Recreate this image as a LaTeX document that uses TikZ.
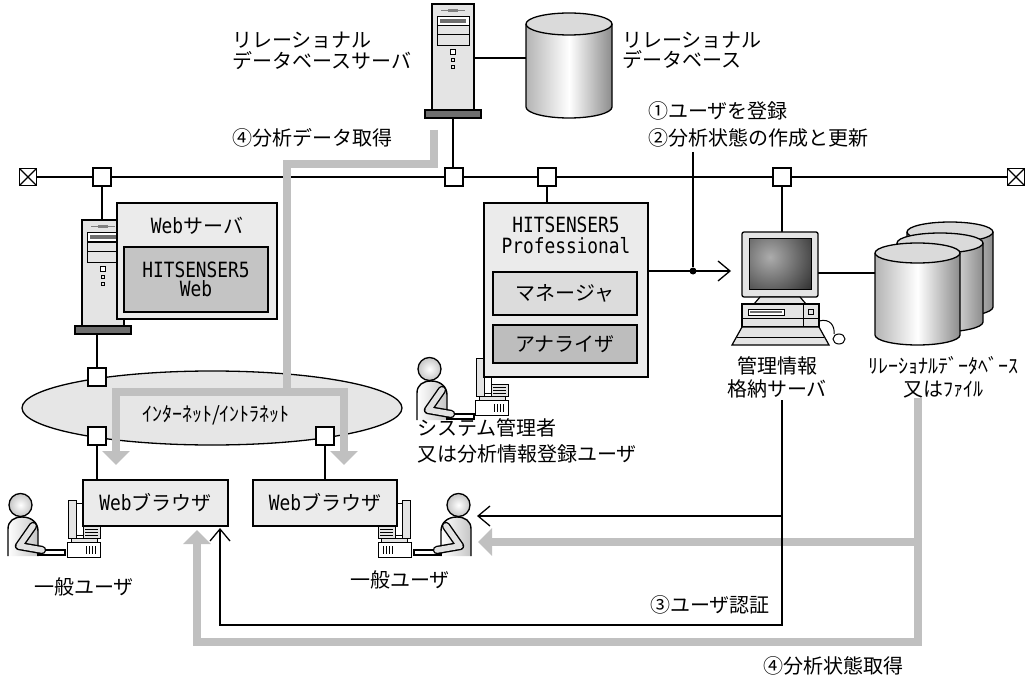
\documentclass[tikz,border=0pt]{standalone}
\usepackage{fontspec}
\setmainfont{Noto Sans CJK JP}
\newfontfamily\monof{DejaVu Sans Mono}[FakeStretch=0.85]
\usetikzlibrary{arrows.meta,shapes.geometric}
\pgfdeclarelayer{paper}
\pgfdeclarelayer{wires}
\pgfsetlayers{paper,wires,main}

\definecolor{boxfill}{HTML}{EBEBEB}
\definecolor{midfill}{HTML}{C4C4C4}
\definecolor{mgrfill}{HTML}{DCDCDC}
\definecolor{anafill}{HTML}{BDBDBD}
\definecolor{flowgray}{HTML}{C0C0C0}
\definecolor{basegray}{HTML}{6E6E6E}
\definecolor{cloudfill}{HTML}{E6E6E6}
\definecolor{towerfill}{HTML}{E4E4E4}
\definecolor{cylleft}{HTML}{B4B4B4}
\definecolor{cylright}{HTML}{8C8C8C}
\definecolor{cyltop}{HTML}{DADADA}
\definecolor{armfill}{HTML}{E2E2E2}

\tikzset{
  every node/.style={font=\fontsize{20}{22}\selectfont, inner sep=0pt},
  wire/.style={draw=black, line width=1.3pt},
  jbox/.style={draw, fill=white, line width=1.3pt, minimum size=18pt, inner sep=0pt},
  termbox/.style={draw, fill=white, line width=1.3pt, minimum size=17pt, inner sep=0pt,
    path picture={\draw[line width=1.1pt]
      (path picture bounding box.south west) -- (path picture bounding box.north east)
      (path picture bounding box.north west) -- (path picture bounding box.south east);}},
  panel/.style={draw, line width=1.3pt, fill=boxfill},
  flow/.style={draw=flowgray, line width=8pt},
  flowtip/.style={-{Triangle[width=27pt,length=14pt]}},
  barb/.style={-{Straight Barb[length=12pt,width=20pt]}},
  thin/.style={line width=1pt},
}

% tower server: left x, top y
\newcommand\towerpc[2]{%
  \begin{scope}[shift={(#1,#2)}]
    \draw[line width=1.3pt, fill=towerfill] (0,0) rectangle (42,106);
    \draw[thin, gray] (9,7) -- (33,7);
    \fill[gray] (16,5.5) rectangle (26,8.5);
    \draw[thin, fill=white] (5,13) rectangle (37,22);
    \fill[basegray] (8,15.5) rectangle (34,19.5);
    \draw[thin, fill=towerfill] (5,22) rectangle (37,31);
    \draw[thin, fill=towerfill] (5,31) rectangle (37,42);
    \draw[thin, fill=white] (18.5,46) rectangle (23.5,51);
    \draw[thin] (19.5,55) rectangle (22.5,58);
    \draw[thin] (19.5,62) rectangle (22.5,65);
    \draw[line width=1.3pt, fill=basegray] (-7,106) rectangle (49,114);
  \end{scope}}

% cylinder: centre x, top y, bottom y, x radius, y radius
\newcommand\cylinder[5]{%
  \shade[left color=cylleft, right color=cylright, middle color=white]
    (#1-#4,#2) -- (#1-#4,#3) arc[start angle=180,end angle=0,x radius=#4,y radius=#5]
    -- (#1+#4,#2) -- cycle;
  \draw[line width=1.3pt] (#1-#4,#2) -- (#1-#4,#3)
    arc[start angle=180,end angle=0,x radius=#4,y radius=#5] -- (#1+#4,#2);
  \draw[line width=1.3pt, fill=cyltop] (#1,#2) ellipse[x radius=#4, y radius=#5];}

% seated person: x, y, facing (1 right, -1 left)
\newcommand\userfig[3]{%
  \begin{scope}[shift={(#1,#2)}, xscale=#3]
    \draw[line width=1.4pt, left color=white, right color=gray!45]
      (0,63) -- (0,36) .. controls (0,28) and (6,24) .. (14,24)
      .. controls (24,24) and (30,30) .. (30,38) -- (30,63);
    \draw[line width=1.2pt, fill=white] (30,57) rectangle (57,62);
    \draw[line width=8.4pt, line join=round, line cap=round] (25,33) -- (11,53) -- (34,57);
    \draw[line width=5.6pt, line join=round, line cap=round, armfill] (25,33) -- (11,53) -- (34,57);
    \draw[line width=1.3pt, inner color=white, outer color=gray!45] (12.5,12) circle[radius=11.5];
  \end{scope}}

% desktop seen from the side: x, y, facing (1 screen to the left, -1 to the right)
\newcommand\pcside[3]{%
  \begin{scope}[shift={(#1,#2)}, xscale=#3]
    \draw[thin, fill=towerfill] (1,2) rectangle (9,40);
    \draw[thin, fill=white] (9,5) rectangle (16,37);
    \draw[thin, fill=towerfill] (16,28) rectangle (33,40);
    \foreach \yy in {31,34,37} \draw[thin] (18,\yy) -- (31,\yy);
    \draw[thin, fill=towerfill] (4,40) rectangle (30,44);
    \draw[thin, fill=white] (0,44) rectangle (33,59);
    \foreach \xx in {19,22,25,28} \draw[thin] (\xx,48) -- (\xx,56);
  \end{scope}}

\begin{document}
\begin{tikzpicture}[x=1pt,y=-1pt]
\useasboundingbox (0,0) rectangle (1036,679);
\begin{pgfonlayer}{paper}
  \fill[white] (0,0) rectangle (1036,679);
\end{pgfonlayer}

% ---------- backbone ----------
\node[termbox] (tL) at (28,177) {};
\node[termbox] (tR) at (1016,177) {};
\node[jbox] (jWeb) at (102,177) {};
\node[jbox] (jDb) at (454,177) {};
\node[jbox] (jPro) at (547,177) {};
\node[jbox] (jMgr) at (782,177) {};

% ---------- relational database server ----------
\towerpc{432}{4}
\coordinate (dbBase) at (453,118);
\coordinate (dbSide) at (474,58);
\cylinder{569}{24}{107}{43}{11}
\coordinate (dbCyl) at (526,58);
\node[anchor=west, align=left, font=\fontsize{20}{20.5}\selectfont] (lblDbSrv) at (232,51)
  {リレーショナル\\データベースサーバ};
\node[anchor=west, align=left, font=\fontsize{20}{20}\selectfont] (lblDb) at (622,50)
  {リレーショナル\\データベース};

% ---------- web server ----------
\towerpc{82}{220}
\coordinate (wsTop) at (102,220);
\coordinate (wsBase) at (97,334);
\node[panel, minimum width=160pt, minimum height=116pt] (websrv) at (197,261) {};
\node (websrvT) at (197,226) {{\monof\fontsize{21}{22}\selectfont Web}サーバ};
\node[draw, line width=1.3pt, fill=midfill, minimum width=144pt, minimum height=65pt,
      align=center, font=\monof\fontsize{21}{19}\selectfont] (hsWeb) at (196,279.5) {HITSENSER5\\Web};

% ---------- internet ----------
\node[ellipse, draw, line width=1.3pt, fill=cloudfill, minimum width=380pt, minimum height=74pt] (net) at (212,408) {};
\node (netT) at (216,415) {ｲﾝﾀｰﾈｯﾄ/ｲﾝﾄﾗﾈｯﾄ};
\node[jbox] (jNet) at (97,377) {};
\node[jbox] (jBr1) at (97,436) {};
\node[jbox] (jBr2) at (325,436) {};

% ---------- general users ----------
\pcside{67}{498}{1}
\userfig{8}{493}{1}
\pcside{411}{498}{-1}
\userfig{471}{493}{-1}
\node[panel, minimum width=145pt, minimum height=46pt] (br1) at (155.5,503) {{\monof\fontsize{21}{22}\selectfont Web}ブラウザ};
\node[panel, minimum width=144pt, minimum height=46pt] (br2) at (325,503) {{\monof\fontsize{21}{22}\selectfont Web}ブラウザ};
\node (usr1) at (84,587) {一般ユーザ};
\node (usr2) at (400,580) {一般ユーザ};

% ---------- administrator ----------
\pcside{475}{356}{1}
\userfig{417}{357}{1}
\node[panel, minimum width=164pt, minimum height=174pt] (pro) at (566,290) {};
\node[align=center, font=\monof\fontsize{21}{21}\selectfont] (proT) at (566,235) {HITSENSER5\\Professional};
\node[draw, line width=1.3pt, fill=mgrfill, minimum width=144pt, minimum height=43pt] (mgr) at (565,293.5) {マネージャ};
\node[draw, line width=1.3pt, fill=anafill, minimum width=144pt, minimum height=38pt] (ana) at (565,344) {アナライザ};
\node[anchor=west, align=left, font=\fontsize{20}{26}\selectfont] (lblAdm) at (417,441)
  {システム管理者\\又は分析情報登録ユーザ};

% ---------- management information server ----------
\draw[line width=1.3pt, fill=towerfill, rounded corners=2pt] (742,232) rectangle (818,297);
\begin{scope}
  \clip (749,239) rectangle (811,289);
  \shade[inner color=gray!65, outer color=black!90] (770,257) circle[radius=62];
\end{scope}
\draw[thin] (749,239) rectangle (811,289);
\draw[line width=1.2pt, fill=towerfill] (760,297) -- (800,297) -- (806,304) -- (754,304) -- cycle;
\draw[line width=1.2pt, fill=towerfill] (742,304) rectangle (819,327);
\draw[thin, fill=white] (748,309) rectangle (784,315);
\fill[basegray] (750,311) rectangle (782,313);
\draw[thin] (742,318) -- (819,318);
\draw[thin] (803,304) -- (803,327);
\draw[thin] (808.5,309) rectangle (813.5,314);
\draw[line width=1.2pt, fill=towerfill] (742,327) -- (819,327) -- (829,345) -- (732,345) -- cycle;
\draw[thin] (737,337) -- (824,337);
\draw[thin] (819,321) .. controls (830,318) and (835,326) .. (834,334);
\draw[thin, fill=white] (839,339) ellipse[x radius=6, y radius=5];
\coordinate (mgrTop) at (782,232);
\coordinate (mgrRight) at (818,273);
\coordinate (mgrIn) at (731,271);
\node[align=center, font=\fontsize{20}{23}\selectfont] (lblMgr) at (777,377) {管理情報\\格納サーバ};

% ---------- storage ----------
\cylinder{950}{232}{307}{43}{10}
\cylinder{940}{243}{322}{43}{10}
\cylinder{917.5}{253}{335}{42.5}{10}
\coordinate (cylFront) at (875,273);
\node[align=center, font=\fontsize{20}{23}\selectfont] (lblStore) at (943,377) {ﾘﾚｰｼｮﾅﾙﾃﾞｰﾀﾍﾞｰｽ\\又はﾌｧｲﾙ};

% ---------- registration flow ----------
\node[anchor=west, align=left, font=\fontsize{20}{27}\selectfont] (lblReg) at (648,124)
  {①ユーザを登録\\②分析状態の作成と更新};
\coordinate (regTop) at (693,152);
\node[circle, fill, inner sep=0pt, minimum size=7pt] (dot) at (693,271) {};
\draw[wire] (regTop) -- (dot);
\draw[wire, barb] (pro.east |- dot) -- (mgrIn);

% ---------- analysis data flow ----------
\node[anchor=west] (lblGet) at (232,138) {④分析データ取得};
\coordinate (g1a) at (434,130);
\coordinate (g1b) at (287,392);
\coordinate (g1L) at (116,465);
\coordinate (g1R) at (344,465);
\draw[flow] (g1a) -- (434,164) -- (287,164) -- (g1b);
\draw[flow, flowtip] (g1b) -| (g1L);
\draw[flow, flowtip] (g1b) -| (g1R);

% ---------- analysis state flow ----------
\coordinate (g2a) at (918,398);
\coordinate (g2b) at (918,542);
\coordinate (g2L) at (197,530);
\coordinate (g2U) at (478,542);
\draw[flow, flowtip] (g2a) -- (918,642) -| (g2L);
\draw[flow, flowtip] (g2b) -- (g2U);
\node (lblState) at (833,666) {④分析状態取得};

% ---------- authentication flow ----------
\coordinate (t3a) at (782,400);
\coordinate (t3b) at (782,516);
\coordinate (t3L) at (220,528);
\coordinate (t3U) at (477,516);
\draw[wire, barb] (t3a) -- (782,625) -| (t3L);
\draw[wire, barb] (t3b) -- (t3U);
\node[anchor=east] (lblAuth) at (770,605) {③ユーザ認証};

% ---------- cabling ----------
\begin{pgfonlayer}{wires}
  \draw[wire] (tL) -- (tR);
  \draw[wire] (jWeb) -- (wsTop);
  \draw[wire] (dbBase) -- (dbBase |- jDb.north);
  \draw[wire] (dbSide) -- (dbCyl);
  \draw[wire] (jPro) -- (jPro |- pro.north);
  \draw[wire] (jMgr) -- (mgrTop);
  \draw[wire] (mgrRight) -- (cylFront);
  \draw[wire] (wsBase) -- (jNet);
  \draw[wire] (jBr1) -- (jBr1 |- br1.north);
  \draw[wire] (jBr2) -- (jBr2 |- br2.north);
\end{pgfonlayer}
\end{tikzpicture}
\end{document}
